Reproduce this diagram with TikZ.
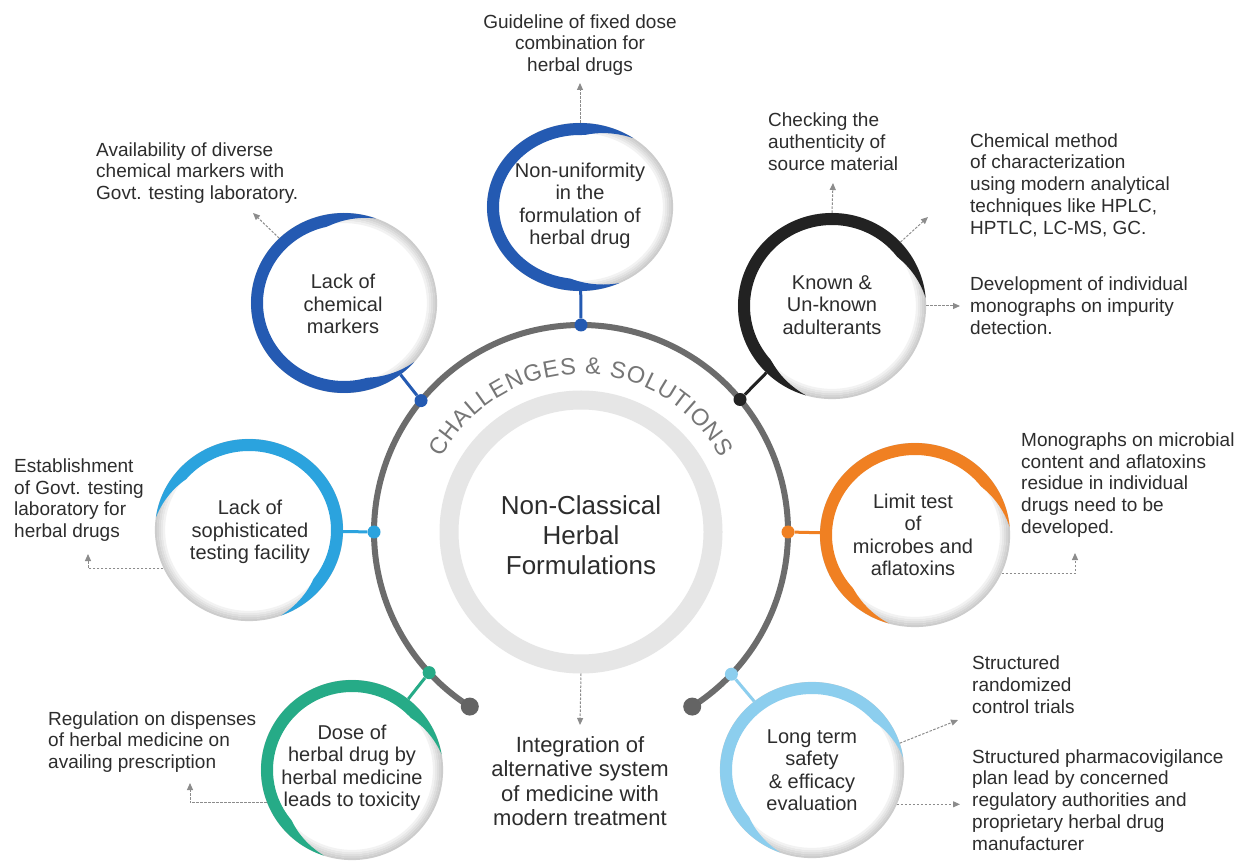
\documentclass[tikz,border=0pt]{standalone}
\usepackage{fontspec}
\setmainfont{Liberation Sans}
\usetikzlibrary{shapes.geometric,calc,arrows.meta,decorations.text}

\definecolor{ringgray}{RGB}{108,108,108}
\definecolor{capgray}{RGB}{100,100,100}
\definecolor{hubgray}{RGB}{230,230,230}
\definecolor{txt}{RGB}{45,45,45}
\definecolor{arrowgray}{RGB}{140,140,140}
\definecolor{arctext}{RGB}{118,118,118}
\definecolor{cNavy}{RGB}{36,90,178}
\definecolor{cSky}{RGB}{43,163,222}
\definecolor{cInk}{RGB}{34,34,34}
\definecolor{cAmber}{RGB}{240,128,34}
\definecolor{cGreen}{RGB}{38,171,135}
\definecolor{cPale}{RGB}{140,206,238}

\tikzset{
  hubtext/.style={font=\fontsize{26}{30}\selectfont, text=txt, align=center, inner sep=0pt},
  cirtext/.style={font=\fontsize{20}{22.5}\selectfont, text=txt, align=center, inner sep=0pt},
  note/.style={font=\fontsize{19}{21.8}\selectfont, text=txt, align=left, anchor=west, inner sep=0pt},
  frame/.style={ellipse, inner sep=0pt, draw=none},
  conn/.style={line width=3pt},
  ringdot/.style={circle, inner sep=0pt, minimum size=13pt},
  capdot/.style={circle, fill=capgray, inner sep=0pt, minimum size=18pt},
  hint/.style={draw=arrowgray, line width=1pt, dash pattern=on 2.5pt off 1.5pt,
    -{Triangle[length=7pt,width=6pt,fill=arrowgray]}},
}

% #1 frame node, #2 x radius, #3 y radius, #4 start angle, #5 end angle, #6 colour
\newcommand{\bubble}[6]{%
  \begin{scope}[shift={(#1.center)}]
    \foreach \d/\g in {1/20,3/17,5/13,7/9,9/5}{
      \draw[black!\g, line width=2.2pt] (0,0) ellipse[x radius={#2-\d}, y radius={#3-\d}];
    }
    \fill[#6] plot[domain=#4:#5, samples=100, variable=\t] ({#2*cos(\t)},{#3*sin(\t)})
      -- plot[domain=#5:#4, samples=100, variable=\t]
      ({(#2-12*min(1,(\t-(#4))/32,((#5)-\t)/32))*cos(\t)},
       {(#3-12*min(1,(\t-(#4))/32,((#5)-\t)/32))*sin(\t)}) -- cycle;
  \end{scope}}

\begin{document}
\begin{tikzpicture}[x=1pt,y=1pt]
\useasboundingbox (0,0) rectangle (1244,860);
\fill[white] (0,0) rectangle (1244,860);

\coordinate (C) at (581,328);

% central hub
\node[circle, draw=hubgray, line width=19pt, minimum size=264pt, inner sep=0pt] (hub) at (C) {};
\node[hubtext] (hubtxt) at (581,325) {Non-Classical\\Herbal\\Formulations};

% title along the ring
\path[decorate, decoration={text along path,
    text={|\fontsize{23.5}{23.5}\selectfont|CHALLENGES {\&} SOLUTIONS},
    text color=arctext, text align={fit to path}}]
  ($(C)+(152:158)$) arc[start angle=152, end angle=28, radius=158];

% outer open ring
\draw[ringgray, line width=6pt] ($(C)+(-57.5:207)$) arc[start angle=-57.5, end angle=237.5, radius=207];
\node[capdot] (capR) at ($(C)+(-57.5:207)$) {};
\node[capdot] (capL) at ($(C)+(237.5:207)$) {};

% challenge bubbles
\node[frame, minimum width=186pt, minimum height=168pt] (T)   at (580,653) {};
\node[frame, minimum width=186pt, minimum height=180pt] (LCM) at (344,557) {};
\node[frame, minimum width=188pt, minimum height=186pt] (K)   at (832,554) {};
\node[frame, minimum width=188pt, minimum height=182pt] (LS)  at (249,330) {};
\node[frame, minimum width=190pt, minimum height=184pt] (LT)  at (915,325) {};
\node[frame, minimum width=182pt, minimum height=180pt] (D)   at (352,90) {};
\node[frame, minimum width=184pt, minimum height=176pt] (LTS) at (812,90) {};

\bubble{T}{93}{84}{55}{295}{cNavy}
\bubble{LCM}{93}{90}{70}{319}{cNavy}
\bubble{K}{94}{93}{5}{254}{cInk}
\bubble{LS}{94}{91}{-70}{172}{cSky}
\bubble{LT}{95}{92}{5}{254}{cAmber}
\bubble{D}{91}{90}{10}{252}{cGreen}
\bubble{LTS}{92}{88}{8}{250}{cPale}

% ring joints
\node[ringdot, fill=cNavy]  (dT)   at ($(C)+(90:207)$) {};
\node[ringdot, fill=cNavy]  (dLCM) at ($(C)+(140.6:207)$) {};
\node[ringdot, fill=cInk]   (dK)   at ($(C)+(39.8:207)$) {};
\node[ringdot, fill=cSky]   (dLS)  at ($(C)+(180:207)$) {};
\node[ringdot, fill=cAmber] (dLT)  at ($(C)+(0:207)$) {};
\node[ringdot, fill=cGreen] (dD)   at ($(C)+(222.8:207)$) {};
\node[ringdot, fill=cPale]  (dLTS) at ($(C)+(316.6:207)$) {};

\draw[conn, cNavy]  (dT) -- (T);
\draw[conn, cNavy]  (dLCM) -- (LCM);
\draw[conn, cInk]   (dK) -- (K);
\draw[conn, cSky]   (dLS) -- (LS);
\draw[conn, cAmber] (dLT) -- (LT);
\draw[conn, cGreen] (dD) -- (D);
\draw[conn, cPale]  (dLTS) -- (LTS);

% bubble labels
\node[cirtext] (tT)   at (580,654) {Non-uniformity\\in the\\formulation of\\herbal drug};
\node[cirtext] (tLCM) at (343,556) {Lack of\\chemical\\markers};
\node[cirtext] (tK)   at (832,555) {Known \&\\Un-known\\adulterants};
\node[cirtext] (tLS)  at (250,328) {Lack of\\sophisticated\\testing facility};
\node[cirtext] (tLT)  at (913,325) {Limit test\\of\\microbes and\\aflatoxins};
\node[cirtext] (tD)   at (352,92)  {Dose of\\herbal drug by\\herbal medicine\\leads to toxicity};
\node[cirtext] (tLTS) at (812,90)  {Long term\\safety\\\& efficacy\\evaluation};

% solutions
\node[note, anchor=center, align=center] (nT) at (580,815) {Guideline of fixed dose\\combination for\\herbal drugs};
\node[note] (nLCM) at (96,687)   {Availability of diverse\\chemical markers with\\Govt. testing laboratory.};
\node[note] (nK1)  at (768,718)  {Checking the\\authenticity of\\source material};
\node[note] (nK2)  at (970,675)  {Chemical method\\of characterization\\using modern analytical\\techniques like HPLC,\\HPTLC, LC-MS, GC.};
\node[note] (nK3)  at (970,554)  {Development of individual\\monographs on impurity\\detection.};
\node[note] (nLT)  at (1021,375) {Monographs on microbial\\content and aflatoxins\\residue in individual\\drugs need to be\\developed.};
\node[note] (nLS)  at (14,360)   {Establishment\\of Govt. testing\\laboratory for\\herbal drugs};
\node[note] (nD)   at (48,118)   {Regulation on dispenses\\of herbal medicine on\\availing prescription};
\node[note] (nL1)  at (972,175)  {Structured\\randomized\\control trials};
\node[note] (nL2)  at (972,60)   {Structured pharmacovigilance\\plan lead by concerned\\regulatory authorities and\\proprietary herbal drug\\manufacturer};
\node[hubtext, font=\fontsize{22}{24.5}\selectfont] (nHub) at (580,79) {Integration of\\alternative system\\of medicine with\\modern treatment};

% pointers
\coordinate (tipT)   at (580,777);
\coordinate (tipLCM) at (253,647);
\coordinate (tipK1)  at (833,677);
\coordinate (tipK2)  at (928,643);
\coordinate (tipK3)  at (960,555);
\coordinate (tipLT)  at (1075,307);
\coordinate (tipLS)  at (88,306);
\coordinate (tipD)   at (190,77);
\coordinate (tipL1)  at (958,140);
\coordinate (tipL2)  at (960,54);
\coordinate (tipHub) at (580,135);

\draw[hint] (T.90) -- (tipT);
\draw[hint] (LCM.135) -- (tipLCM);
\draw[hint] (K.90) -- (tipK1);
\draw[hint] (K.43) -- (tipK2);
\draw[hint] (K.0) -- (K.0 -| tipK3);
\draw[hint] (LT.-24) -| (tipLT);
\draw[hint] (LS.204) -| (tipLS);
\draw[hint] (D.201) -| (tipD);
\draw[hint] (LTS.17) -- (tipL1);
\draw[hint] (LTS.-22) -- (LTS.-22 -| tipL2);
\draw[hint] (hub.south) -- (tipHub);
\end{tikzpicture}
\end{document}
